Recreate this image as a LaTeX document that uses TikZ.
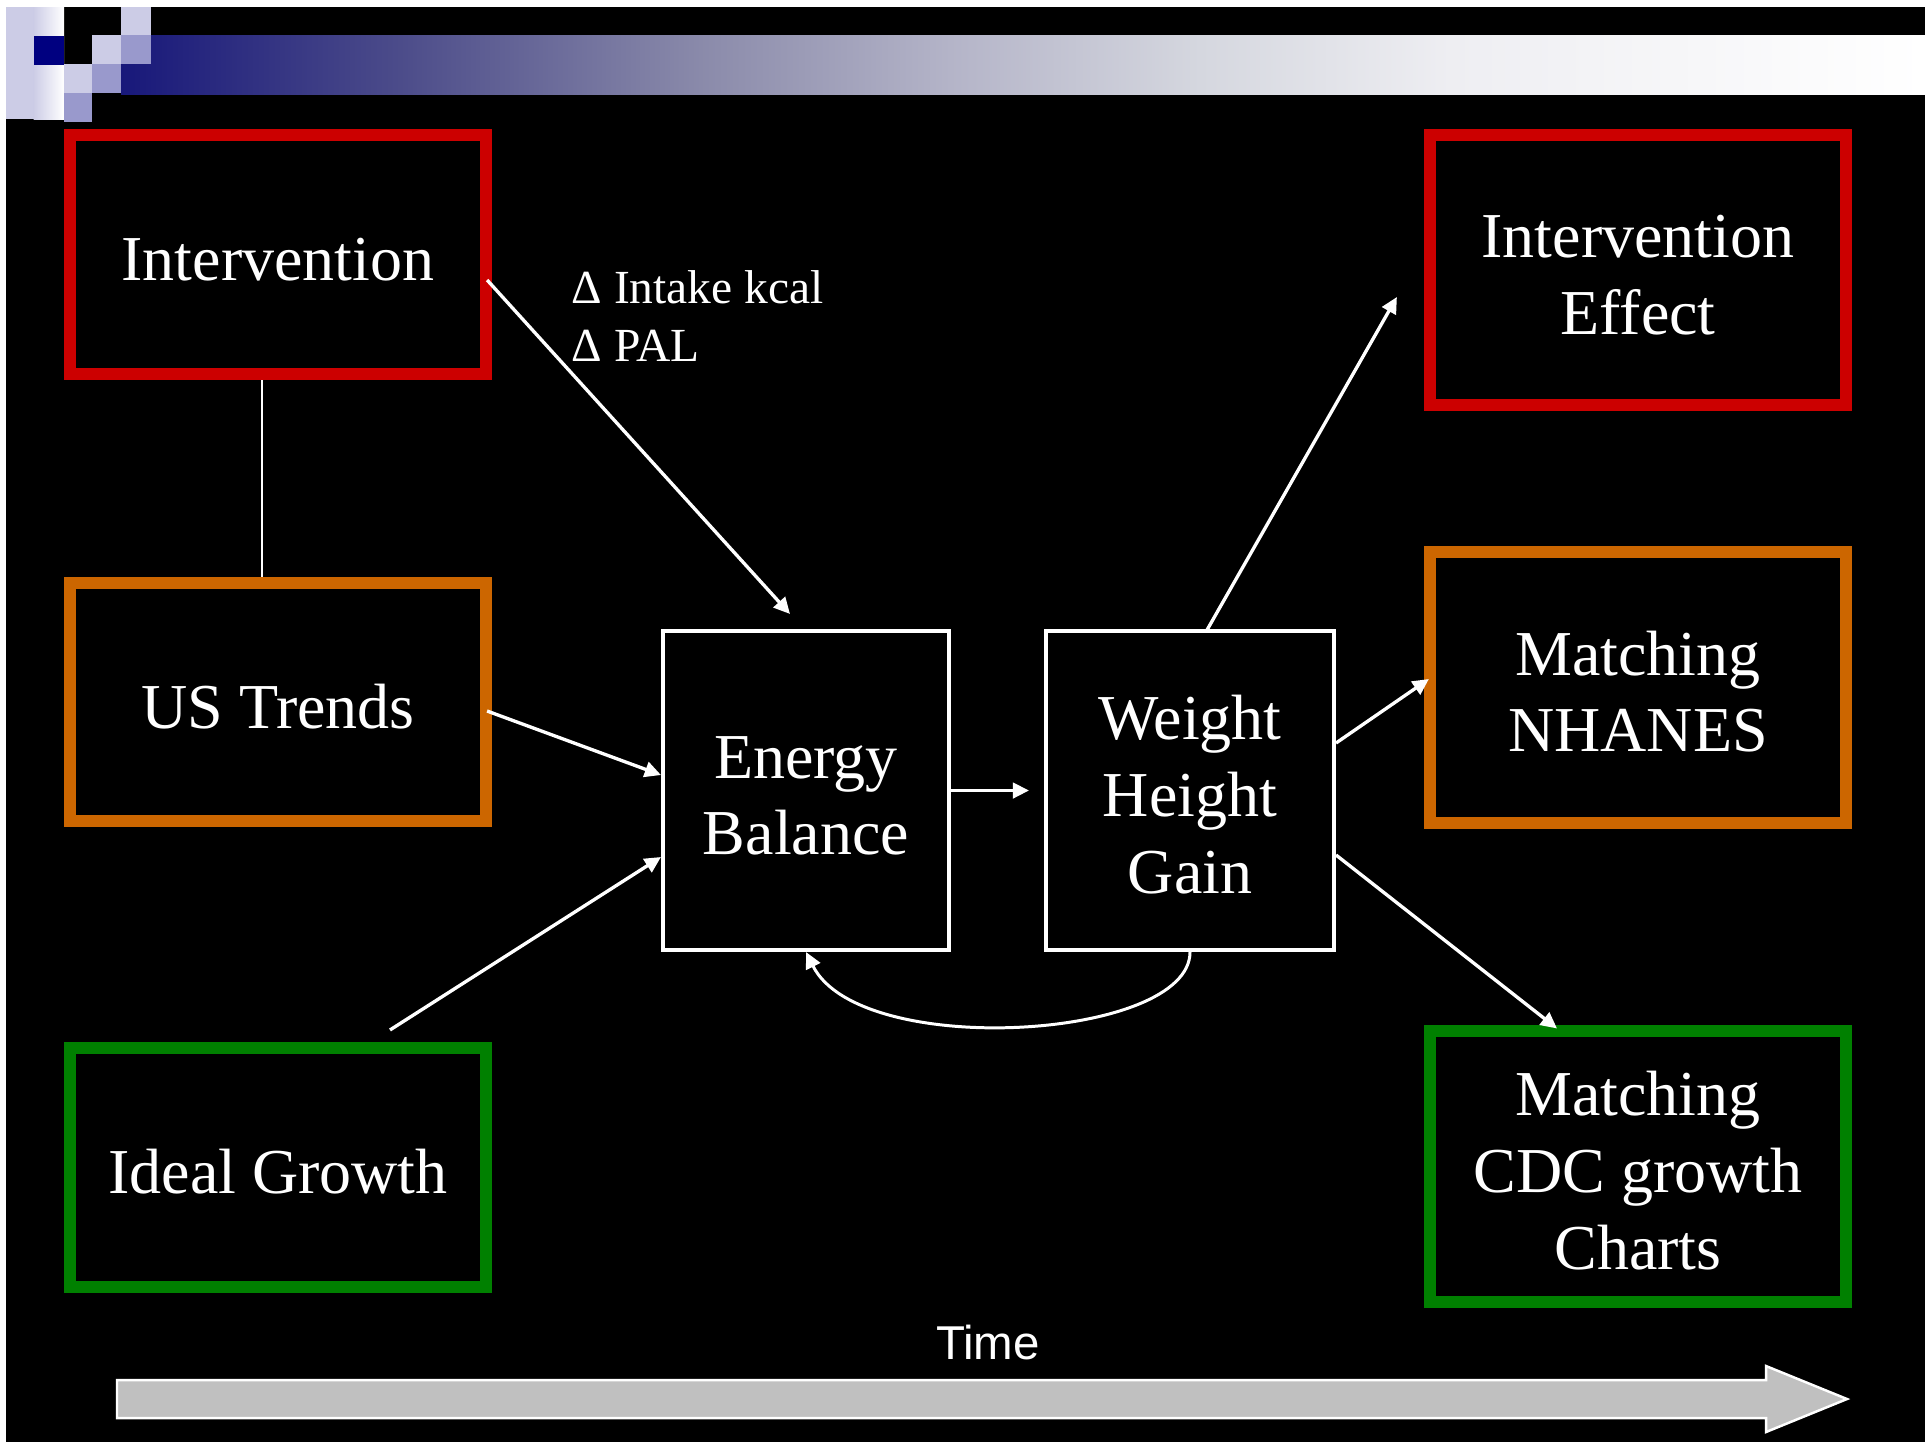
\documentclass[tikz,border=0pt]{standalone}
\usepackage{fontspec}
\setmainfont{Liberation Serif}
\newfontfamily\timefont{Liberation Sans}
\usetikzlibrary{arrows.meta,calc}
\definecolor{boxred}{HTML}{CC0000}
\definecolor{boxorange}{HTML}{CC6600}
\definecolor{boxgreen}{HTML}{008000}
\definecolor{navysq}{HTML}{000080}
\definecolor{lavlight}{HTML}{CCCCE6}
\definecolor{lavmid}{HTML}{9999CC}
\definecolor{arrowgray}{HTML}{C0C0C0}
\definecolor{ga}{HTML}{18187A}
\definecolor{gb}{HTML}{4C4C8A}
\definecolor{gc}{HTML}{8A8AAA}
\definecolor{gd}{HTML}{B4B4C8}
\definecolor{ge}{HTML}{D5D7DF}
\definecolor{gf}{HTML}{EEEEF2}
\newcommand\diagfont{\fontsize{18.2pt}{21.8pt}\selectfont}
\newcommand\smallfont{\fontsize{13.5pt}{16pt}\selectfont}
\newcommand\topstrut{\rule{0pt}{15pt}}
\begin{document}
\begin{tikzpicture}[x=0.01cm,y=-0.01cm,
  cbox/.style={draw=#1, line width=3.4pt, minimum width=4.16cm, text=white, align=center, inner sep=0pt, font=\diagfont},
  wbox/.style={draw=white, line width=1.1pt, minimum height=3.19cm, text=white, align=center, inner sep=0pt, font=\diagfont},
  conn/.style={draw=white, line width=0.95pt, -{Triangle[length=4.6pt,width=4.4pt]}},
  plainline/.style={draw=white, line width=0.75pt},
  lbl/.style={text=white, font=\smallfont, inner sep=0pt, anchor=base west}]
\useasboundingbox (0,0) rectangle (1925,1442);
% background
\fill[white] (0,0) rectangle (1925,1442);
\fill[black] (6,7) rectangle (1925,1442);
% top decoration
\fill[lavlight] (6,7) rectangle (34,119);
\shade[left color=lavlight, right color=white] (33.5,7) rectangle (64,119);
\fill[navysq] (34,36) rectangle (64,65);
\shade[left color=ga, right color=gb] (121,35) rectangle (400.5,94);
\shade[left color=gb, right color=gc] (400,35) rectangle (700.5,94);
\shade[left color=gc, right color=gd] (700,35) rectangle (950.5,94);
\shade[left color=gd, right color=ge] (950,35) rectangle (1200.5,94);
\shade[left color=ge, right color=gf] (1200,35) rectangle (1450.5,94);
\shade[left color=gf, right color=white] (1450,35) rectangle (1925,94);
\fill[lavlight] (121,7) rectangle (151,35);
\fill[lavlight] (92,35) rectangle (121,64);
\fill[lavlight] (64,64) rectangle (92,93);
\fill[lavmid] (121,35) rectangle (151,64);
\fill[lavmid] (92,64) rectangle (121,93);
\fill[lavmid] (64,93) rectangle (92,122);
% boxes
\node[cbox=boxred, minimum height=2.39cm] (int) at (278,254.5) {\topstrut Intervention};
\node[cbox=boxorange, minimum height=2.38cm] (ust) at (278,702) {\topstrut US Trends};
\node[cbox=boxgreen, minimum height=2.39cm] (ig) at (278,1167.5) {\topstrut Ideal Growth};
\node[cbox=boxred, minimum height=2.70cm] (ie) at (1638,270) {\topstrut Intervention\\Effect};
\node[cbox=boxorange, minimum height=2.71cm] (nh) at (1638,687.5) {\topstrut Matching\\NHANES};
\node[cbox=boxgreen, minimum height=2.70cm] (cdc) at (1638,1166.5) {\topstrut Matching\\CDC growth\\Charts};
\node[wbox, minimum width=2.86cm] (eb) at (806,790.5) {\topstrut Energy\\Balance};
\node[wbox, minimum width=2.88cm] (whg) at (1190,790.5) {\topstrut Weight\\Height\\Gain};
% labels
\node[lbl] (lbla) at (571,303) {Δ Intake kcal};
\node[lbl] (lblb) at (571,361) {Δ PAL};
% connectors
\draw[plainline] ($(int.south)+(-16,0)$) -- ($(ust.north)+(-16,0)$);
\draw[conn] ($(int.east)+(-5,25.5)$) -- ($(eb.north)+(-16,-15)$);
\draw[conn] ($(ust.east)+(-5,9)$) -- ($(eb.west)+(0,-15.5)$);
\draw[conn] ($(ig.north)+(112,-12)$) -- ($(eb.west)+(0,66.5)$);
\draw[conn] (eb.east) -- ($(whg.west)+(-15,0)$);
\draw[conn] ($(whg.north)+(17,1)$) -- ($(ie.west)+(-27,27)$);
\draw[conn] ($(whg.east)+(0,-47.5)$) -- ($(nh.west)+(5,-8.5)$);
\draw[conn] ($(whg.east)+(0,64.5)$) -- ($(cdc.north)+(-81,3)$);
\draw[conn, line width=0.85pt] (whg.south) .. controls ($(whg.south)+(0,88)$) and ($(eb.south)+(54,108)$) .. (eb.south);
% time arrow
\filldraw[fill=arrowgray, draw=white, line width=0.7pt] (117,1380) -- (1766,1380) -- (1766,1366) -- (1847,1399) -- (1766,1432) -- (1766,1418) -- (117,1418) -- cycle;
\node[text=white, font=\timefont\smallfont, inner sep=0pt, anchor=base] (time) at (988,1359) {Time};
\end{tikzpicture}
\end{document}
